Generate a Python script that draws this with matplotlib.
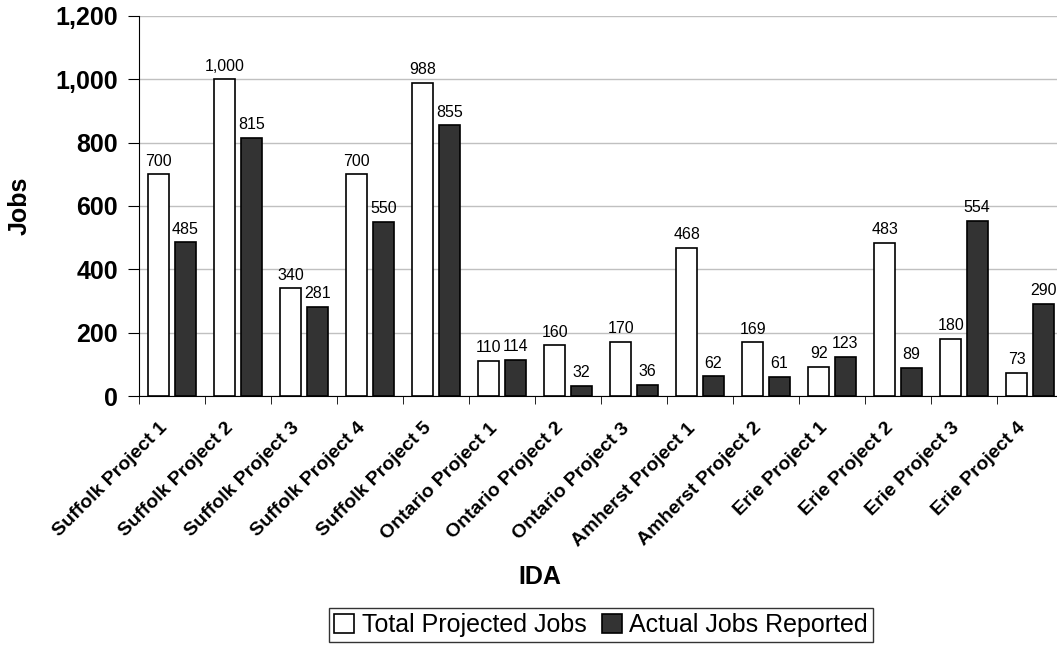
import numpy as np
import matplotlib
matplotlib.use('Agg')
import matplotlib.pyplot as plt
from matplotlib.ticker import FuncFormatter, MultipleLocator

plt.rcParams['font.family'] = ['Liberation Sans', 'DejaVu Sans']

projects = ['Suffolk Project 1', 'Suffolk Project 2', 'Suffolk Project 3', 'Suffolk Project 4',
            'Suffolk Project 5', 'Ontario Project 1', 'Ontario Project 2', 'Ontario Project 3',
            'Amherst Project 1', 'Amherst Project 2', 'Erie Project 1', 'Erie Project 2',
            'Erie Project 3', 'Erie Project 4']
projected = [700, 1000, 340, 700, 988, 110, 160, 170, 468, 169, 92, 483, 180, 73]
actual = [485, 815, 281, 550, 855, 114, 32, 36, 62, 61, 123, 89, 554, 290]

fig = plt.figure(figsize=(10.57, 6.46), dpi=100)
ax = fig.add_axes([139 / 1057, 1 - 396 / 646, 924 / 1057, 380 / 646])

x = np.arange(len(projects))
w = 0.32
b1 = ax.bar(x - 0.2, projected, w, color='white', edgecolor='black', linewidth=1.2,
            label='Total Projected Jobs', zorder=3)
b2 = ax.bar(x + 0.2, actual, w, color='#333333', edgecolor='black', linewidth=1.2,
            label='Actual Jobs Reported', zorder=3)

# value labels above each bar
for bars in (b1, b2):
    for r in bars:
        v = r.get_height()
        ax.text(r.get_x() + r.get_width() / 2, v + 18, format(int(v), ','),
                ha='center', va='bottom', fontsize=11.5)

ax.set_xlim(-0.5, len(projects) - 0.5)
ax.set_ylim(0, 1200)
ax.yaxis.set_major_locator(MultipleLocator(200))
ax.yaxis.set_major_formatter(FuncFormatter(lambda v, p: format(int(v), ',')))
ax.grid(axis='y', color='#c0c0c0', linewidth=1, zorder=0)
ax.set_axisbelow(True)

# labels sit a little left of the category centre, like the original
ax.set_xticks(x - 0.2)
ax.set_xticklabels(projects, rotation=45, ha='right', rotation_mode='anchor',
                   fontsize=14, fontweight='bold')
ax.set_xticks(np.arange(len(projects) + 1) - 0.5, minor=True)
ax.tick_params(axis='x', which='major', length=0, pad=17)
ax.tick_params(axis='x', which='minor', length=6, direction='out')
ax.tick_params(axis='y', length=8, direction='out', pad=7, labelsize=18)
for t in ax.get_yticklabels():
    t.set_fontweight('bold')

for s in ['top', 'right']:
    ax.spines[s].set_visible(False)
ax.spines['left'].set_color('black')
ax.spines['bottom'].set_color('black')

fig.text(20 / 1057, 1 - 206 / 646, 'Jobs', rotation=90, ha='center', va='center',
         fontsize=18, fontweight='bold')
fig.text(540 / 1057, 1 - 577 / 646, 'IDA', ha='center', va='center',
         fontsize=18, fontweight='bold')

leg = fig.legend(loc='center', bbox_to_anchor=(601 / 1057, 1 - 625 / 646), ncol=2,
                 fontsize=18, frameon=True, fancybox=False, edgecolor='black',
                 handlelength=0.8, handleheight=0.8, handletextpad=0.3,
                 columnspacing=0.6, borderpad=0.2, borderaxespad=0)
leg.get_frame().set_linewidth(1)

fig.savefig('out.png', dpi=100)
